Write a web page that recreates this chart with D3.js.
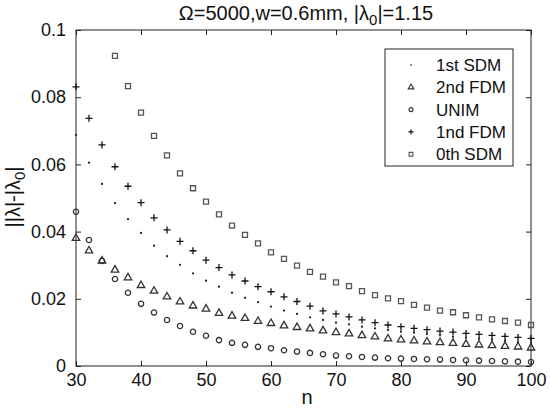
<!DOCTYPE html>
<html>
<head>
<meta charset="utf-8">
<script src="https://cdn.jsdelivr.net/npm/d3@7"></script>
<style>
  body { margin: 0; background: #fff; }
  text { font-family: Arial, "Liberation Sans", sans-serif; fill: #111; }
</style>
</head>
<body>
<script>
// значения n по оси x
const nValues = [30, 32, 34, 36, 38, 40, 42, 44, 46, 48, 50, 52, 54, 56, 58, 60, 62, 64,
                 66, 68, 70, 72, 74, 76, 78, 80, 82, 84, 86, 88, 90, 92, 94, 96, 98, 100];
// ряды (по порядку легенды)
const sdm1 = [0.0688, 0.0605, 0.0542, 0.0485, 0.0437, 0.0396, 0.0358, 0.0327, 0.0301, 0.0276,
              0.0254, 0.0236, 0.0218, 0.0203, 0.0190, 0.0177, 0.0165, 0.0155, 0.0145, 0.0137,
              0.0129, 0.0124, 0.0117, 0.0112, 0.0107, 0.0102, 0.0099, 0.0095, 0.0091, 0.0087,
              0.0084, 0.0081, 0.0078, 0.0075, 0.0071, 0.0068];
const fdm2 = [0.0380, 0.0343, 0.0313, 0.0286, 0.0263, 0.0240, 0.0223, 0.0206, 0.0191, 0.0179,
              0.0170, 0.0157, 0.0149, 0.0142, 0.0133, 0.0127, 0.0120, 0.0115, 0.0111, 0.0105,
              0.0100, 0.0096, 0.0091, 0.0087, 0.0081, 0.0078, 0.0075, 0.0072, 0.0070, 0.0068,
              0.0065, 0.0063, 0.0061, 0.0059, 0.0057, 0.0054];
const unim = [0.0459, 0.0375, 0.0313, 0.0259, 0.0218, 0.0185, 0.0159, 0.0137, 0.0119, 0.0102,
              0.0090, 0.0077, 0.0069, 0.0063, 0.0057, 0.0053, 0.0047, 0.0043, 0.0039, 0.0035,
              0.0031, 0.0029, 0.0027, 0.0025, 0.0023, 0.0022, 0.0021, 0.0020, 0.0019, 0.0018,
              0.0017, 0.0016, 0.0015, 0.0014, 0.0013, 0.0012];
const fdm1 = [0.0831, 0.0737, 0.0658, 0.0593, 0.0535, 0.0486, 0.0441, 0.0405, 0.0371, 0.0343,
              0.0315, 0.0293, 0.0271, 0.0253, 0.0236, 0.0221, 0.0206, 0.0192, 0.0178, 0.0164,
              0.0155, 0.0146, 0.0137, 0.0129, 0.0122, 0.0117, 0.0112, 0.0108, 0.0104, 0.0101,
              0.0097, 0.0094, 0.0091, 0.0088, 0.0085, 0.0082];
const sdm0 = [null, null, null, 0.0923, 0.0833, 0.0754, 0.0685, 0.0627, 0.0573, 0.0529,
              0.0489, 0.0451, 0.0418, 0.0390, 0.0365, 0.0338, 0.0319, 0.0299, 0.0280, 0.0266,
              0.0249, 0.0238, 0.0223, 0.0211, 0.0201, 0.0193, 0.0182, 0.0174, 0.0165, 0.0160,
              0.0151, 0.0145, 0.0139, 0.0134, 0.0129, 0.0122];
const seriesNames = ['1st SDM', '2nd FDM', 'UNIM', '1nd FDM', '0th SDM'];
const seriesValues = [sdm1, fdm2, unim, fdm1, sdm0];
const xTicks = [30, 40, 50, 60, 70, 80, 90, 100];
const yTicks = [0, 0.02, 0.04, 0.06, 0.08, 0.1];

const width = 550, height = 409;
const plotLeft = 76, plotRight = 531, plotTop = 30, plotBottom = 366;
const tickFont = 18, legendFont = 17, labelFont = 20;

const x = d3.scaleLinear().domain([30, 100]).range([plotLeft, plotRight]);
const y = d3.scaleLinear().domain([0, 0.1]).range([plotBottom, plotTop]);

const svg = d3.select('body').append('svg')
   .attr('width', width)
   .attr('height', height);

// рамка осей
svg.append('rect')
   .attr('x', plotLeft).attr('y', plotTop)
   .attr('width', plotRight - plotLeft).attr('height', plotBottom - plotTop)
   .attr('fill', 'none').attr('stroke', '#222').attr('stroke-width', 1);

// оси с засечками внутрь (как в MATLAB)
const axisStyle = (g) => {
   g.select('.domain').remove();
   g.selectAll('line').attr('stroke', '#222');
   g.selectAll('text').attr('font-size', tickFont).attr('fill', '#111')
      .attr('font-family', 'Arial, "Liberation Sans", sans-serif');
};
svg.append('g').attr('transform', 'translate(0,' + plotBottom + ')')
   .call(d3.axisBottom(x).tickValues(xTicks).tickSizeInner(-5).tickSizeOuter(0).tickPadding(7))
   .call(axisStyle);
svg.append('g').attr('transform', 'translate(0,' + plotTop + ')')
   .call(d3.axisTop(x).tickValues(xTicks).tickSizeInner(-5).tickSizeOuter(0).tickFormat(''))
   .call(axisStyle);
svg.append('g').attr('transform', 'translate(' + plotLeft + ',0)')
   .call(d3.axisLeft(y).tickValues(yTicks).tickSizeInner(-5).tickSizeOuter(0).tickPadding(10)
      .tickFormat(d3.format('~g')))
   .call(axisStyle);
svg.append('g').attr('transform', 'translate(' + plotRight + ',0)')
   .call(d3.axisRight(y).tickValues(yTicks).tickSizeInner(-5).tickSizeOuter(0).tickFormat(''))
   .call(axisStyle);

// маркеры
const markers = [
   {path: d3.symbol(d3.symbolCircle, 4)(), fill: '#222', stroke: 'none'},
   {path: d3.symbol(d3.symbolTriangle, 24)(), fill: 'none', stroke: '#333'},
   {path: d3.symbol(d3.symbolCircle, 22)(), fill: 'none', stroke: '#333'},
   {path: 'M-3.5,0H3.5M0,-3.5V3.5', fill: 'none', stroke: '#111'},
   {path: 'M-2.5,-2.5H2.5V2.5H-2.5Z', fill: 'none', stroke: '#555'}
];

seriesValues.forEach((vals, s) => {
   const pts = nValues.map((n, i) => ({n: n, v: vals[i]})).filter(d => d.v !== null);
   svg.append('g').selectAll('path')
      .data(pts)
   .enter().append('path')
      .attr('d', markers[s].path)
      .attr('transform', d => 'translate(' + x(d.n) + ',' + y(d.v) + ')')
      .attr('fill', markers[s].fill)
      .attr('stroke', markers[s].stroke)
      .attr('stroke-width', 1.3);
});

// легенда (маркеры в легенде чуть мельче)
const legend = svg.append('g');
legend.append('rect')
   .attr('x', 385).attr('y', 49)
   .attr('width', 128).attr('height', 117)
   .attr('fill', '#fff').attr('stroke', '#222');
seriesNames.forEach((name, s) => {
   const ly = 65 + s * 22.3;
   legend.append('path')
      .attr('d', markers[s].path)
      .attr('transform', 'translate(411,' + ly + ') scale(0.75)')
      .attr('fill', markers[s].fill)
      .attr('stroke', markers[s].stroke)
      .attr('stroke-width', 1.5);
   legend.append('text')
      .attr('x', 436).attr('y', ly + 6)
      .attr('font-size', legendFont)
      .text(name);
});

// заголовок
const title = svg.append('text')
   .attr('x', 306).attr('y', 20)
   .attr('text-anchor', 'middle')
   .attr('font-size', labelFont);
title.append('tspan').text('Ω=5000,w=0.6mm, |λ');
title.append('tspan').attr('dy', 5).attr('font-size', 15).text('0');
title.append('tspan').attr('dy', -5).text('|=1.15');

// подписи осей
svg.append('text')
   .attr('x', 307).attr('y', 404)
   .attr('text-anchor', 'middle')
   .attr('font-size', labelFont)
   .text('n');

const yLabel = svg.append('text')
   .attr('transform', 'translate(20,197) rotate(-90)')
   .attr('text-anchor', 'middle')
   .attr('font-size', labelFont);
yLabel.append('tspan').text('||λ|-|λ');
yLabel.append('tspan').attr('dy', 5).attr('font-size', 15).text('0');
yLabel.append('tspan').attr('dy', -5).text('|');
</script>
</body>
</html>
